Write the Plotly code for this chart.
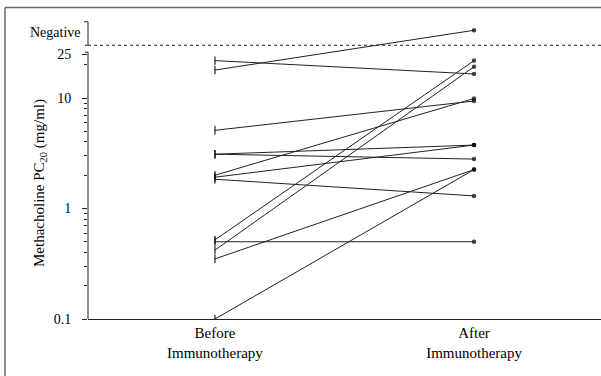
import plotly.graph_objects as go

# ---- data ----
stages = ["Before<br>Immunotherapy", "After<br>Immunotherapy"]
before = [21.8, 17.9, 5.1, 3.1, 3.1, 2.0, 1.92, 1.84, 0.52, 0.5, 0.42, 0.35, 0.1]
after = [16.5, 41.0, 9.4, 3.75, 2.8, 9.9, 3.75, 1.3, 21.8, 0.5, 19.2, 2.25, 2.25]
major_ticks = [0.1, 1, 10, 25]
major_labels = ["0.1", "1", "10", "25"]
minor_ticks = [0.2, 0.3, 0.4, 0.5, 0.6, 0.7, 0.8, 0.9, 2, 3, 4, 5, 6, 7, 8, 9, 20]
negative_cutoff = 30
negative_label = "Negative"
y_title = "Methacholine PC<sub>20</sub> (mg/ml)"

FONT = "Liberation Serif"
W, H = 601, 376
ML, MR, MT, MB = 88, 0, 20, 57
PW = W - ML - MR
PH = H - MT - MB

fig = go.Figure()
for b, a in zip(before, after):
    fig.add_trace(go.Scatter(
        x=[0, 1], y=[b, a], mode="lines+markers",
        line=dict(color="#222222", width=1),
        marker=dict(symbol=["line-ns", "circle"], size=[6, 3], color="#000000",
                    line=dict(color="#000000", width=1.5)),
        showlegend=False, hoverinfo="skip"))

def px_x(p):
    return (p - ML) / PW

def px_y(p):
    return (H - MB - p) / PH

shapes = []
# lower y-axis segment
shapes.append(dict(type="line", xref="paper", yref="y", x0=0, x1=0, y0=0.1, y1=26,
                   line=dict(color="#222", width=1)))
shapes.append(dict(type="line", xref="paper", yref="y", x0=0, x1=px_x(ML - 3), y0=26, y1=26,
                   line=dict(color="#222", width=1)))
# upper (Negative) bracket
shapes.append(dict(type="line", xref="paper", yref="y", x0=0, x1=0, y0=negative_cutoff, y1=49,
                   line=dict(color="#222", width=1)))
shapes.append(dict(type="line", xref="paper", yref="y", x0=0, x1=px_x(ML - 4), y0=49, y1=49,
                   line=dict(color="#222", width=1)))
shapes.append(dict(type="line", xref="paper", yref="y", x0=0, x1=px_x(ML - 3), y0=negative_cutoff, y1=negative_cutoff,
                   line=dict(color="#222", width=1)))
# dotted negative threshold
shapes.append(dict(type="line", xref="paper", yref="y", x0=0, x1=1, y0=negative_cutoff, y1=negative_cutoff,
                   line=dict(color="#222", width=1, dash="dot")))
# outer frame (top and left edges)
shapes.append(dict(type="line", xref="paper", yref="paper",
                   x0=px_x(5), x1=1, y0=px_y(7.5), y1=px_y(7.5),
                   line=dict(color="#666", width=1.5)))
shapes.append(dict(type="line", xref="paper", yref="paper",
                   x0=px_x(5), x1=px_x(5), y0=px_y(7.5), y1=px_y(H),
                   line=dict(color="#444", width=1.2)))

annotations = [
    dict(text=negative_label, xref="paper", yref="paper", x=px_x(83), y=px_y(33),
         xanchor="right", yanchor="middle", showarrow=False,
         font=dict(family=FONT, size=14, color="black")),
    dict(text=y_title, xref="paper", yref="paper", x=px_x(40), y=px_y(183),
         xanchor="center", yanchor="middle", textangle=-90, showarrow=False,
         font=dict(family=FONT, size=15, color="black")),
]

fig.update_layout(
    width=W, height=H,
    margin=dict(l=ML, r=MR, t=MT, b=MB, pad=0),
    paper_bgcolor="white", plot_bgcolor="white",
    font=dict(family=FONT, size=15, color="black"),
    shapes=shapes, annotations=annotations,
    xaxis=dict(range=[-0.49, 1.49], tickvals=[0, 1], ticktext=stages,
               showline=True, linecolor="#222", linewidth=1, ticks="",
               showgrid=False, zeroline=False, ticklabelstandoff=0,
               tickfont=dict(family=FONT, size=15, color="black")),
    yaxis=dict(type="log", range=[-1, -1 + PH / 110.5],
               tickvals=major_ticks, ticktext=major_labels,
               ticks="outside", ticklen=5, tickcolor="#222", tickwidth=1,
               minor=dict(tickvals=minor_ticks, ticks="outside", ticklen=3,
                          tickcolor="#222", tickwidth=1, showgrid=False),
               showline=False, showgrid=False, zeroline=False,
               ticklabelstandoff=8,
               tickfont=dict(family=FONT, size=14, color="black")),
)

fig.write_html("out.html", config={"displayModeBar": False},
               post_script="document.body.style.margin='0';document.body.style.overflow='hidden';")
